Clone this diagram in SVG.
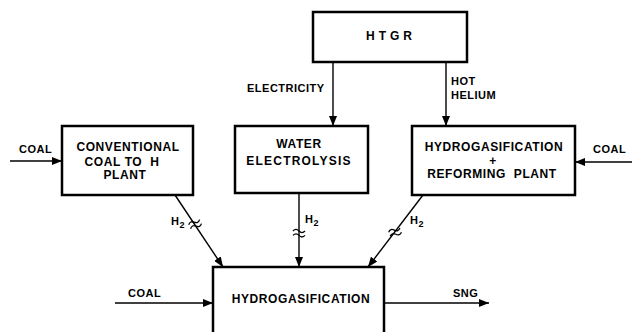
<svg xmlns="http://www.w3.org/2000/svg" width="632" height="332" viewBox="0 0 632 332">
<defs>
<marker id="ah" viewBox="0 0 10 8" refX="10" refY="4" markerWidth="10" markerHeight="8" markerUnits="userSpaceOnUse" orient="auto">
<path d="M0,0 L10,4 L0,8 Z" fill="#000"/>
</marker>
<g id="brk">
<path d="M-6,-2 q3,-3.2 6,0 t6,0" fill="none" stroke="#000" stroke-width="1.3"/>
<path d="M-6,2.4 q3,-3.2 6,0 t6,0" fill="none" stroke="#000" stroke-width="1.3"/>
</g>
</defs>
<style>
.box{fill:#fff;stroke:#000;stroke-width:2.5}
.ln{fill:none;stroke:#000;stroke-width:1.4}
.t{font-family:"Liberation Sans",Arial,sans-serif;font-weight:bold;font-size:12px;letter-spacing:0.6px;fill:#000;white-space:pre}
.s{font-family:"Liberation Sans",Arial,sans-serif;font-weight:bold;font-size:11px;letter-spacing:0.5px;fill:#000}
</style>
<rect width="632" height="332" fill="#fff"/>

<g id="connectors">
<line class="ln" x1="333" y1="62" x2="333" y2="126" marker-end="url(#ah)"/>
<line class="ln" x1="446" y1="62" x2="446" y2="126" marker-end="url(#ah)"/>
<line class="ln" x1="10" y1="161" x2="62" y2="161" marker-end="url(#ah)"/>
<line class="ln" x1="632" y1="162" x2="575" y2="162" marker-end="url(#ah)"/>
<line class="ln" x1="175" y1="195" x2="223" y2="267" marker-end="url(#ah)"/>
<line class="ln" x1="299" y1="194" x2="299" y2="267" marker-end="url(#ah)"/>
<line class="ln" x1="423" y1="195" x2="368" y2="267" marker-end="url(#ah)"/>
<line class="ln" x1="115" y1="303" x2="213" y2="303" marker-end="url(#ah)"/>
<line class="ln" x1="384" y1="303" x2="489" y2="303" marker-end="url(#ah)"/>
<use href="#brk" transform="translate(195,224) rotate(-25)"/>
<use href="#brk" transform="translate(299,233)"/>
<use href="#brk" transform="translate(395,232) rotate(-20)"/>
<text class="s" x="247" y="92">ELECTRICITY</text>
<text class="s" x="451" y="85">HOT</text>
<text class="s" x="451" y="99">HELIUM</text>
<text class="s" x="19" y="153">COAL</text>
<text class="s" x="593" y="153">COAL</text>
<text class="s" x="128" y="297">COAL</text>
<text class="s" x="453" y="297">SNG</text>
<text class="s" x="171" y="225">H<tspan font-size="9" dy="3">2</tspan></text>
<text class="s" x="305" y="223">H<tspan font-size="9" dy="3">2</tspan></text>
<text class="s" x="410" y="224">H<tspan font-size="9" dy="3">2</tspan></text>
</g>

<g id="htgr">
<rect class="box" x="313" y="12" width="154" height="50"/>
<text class="t" x="391" y="40" text-anchor="middle" style="letter-spacing:4px">HTGR</text>
</g>

<g id="conventional">
<rect class="box" x="62" y="126" width="131" height="69"/>
<text class="t" x="128" y="151" text-anchor="middle">CONVENTIONAL</text>
<text class="t" x="122" y="166" text-anchor="middle" xml:space="preserve">COAL TO  H</text>
<text class="t" x="125" y="179" text-anchor="middle">PLANT</text>
</g>

<g id="electrolysis">
<rect class="box" x="235" y="126" width="133" height="67"/>
<text class="t" x="299" y="148" text-anchor="middle">WATER</text>
<text class="t" x="299" y="165" text-anchor="middle" style="letter-spacing:1.2px">ELECTROLYSIS</text>
</g>

<g id="reforming">
<rect class="box" x="412" y="126" width="163" height="69"/>
<text class="t" x="494" y="151" text-anchor="middle">HYDROGASIFICATION</text>
<text class="t" x="493" y="165" text-anchor="middle">+</text>
<text class="t" x="492" y="178" text-anchor="middle" xml:space="preserve">REFORMING  PLANT</text>
</g>

<g id="hydrogasification">
<rect class="box" x="213" y="267" width="171" height="100"/>
<text class="t" x="301" y="303" text-anchor="middle">HYDROGASIFICATION</text>
</g>
</svg>
